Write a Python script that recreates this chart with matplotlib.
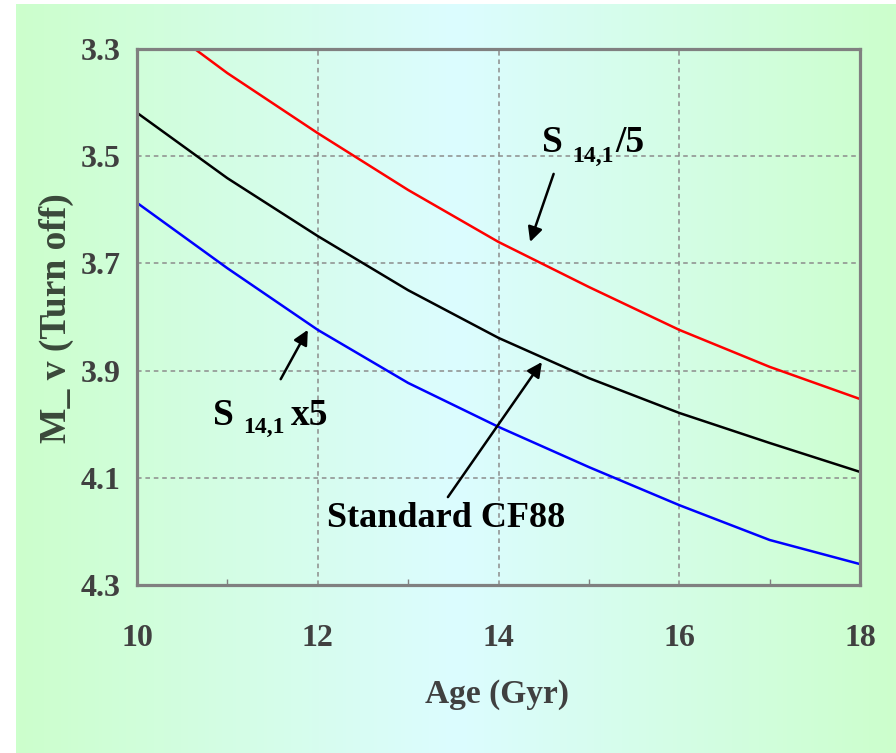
import numpy as np
import matplotlib
matplotlib.use("Agg")
import matplotlib.pyplot as plt
from matplotlib.colors import LinearSegmentedColormap
from matplotlib.ticker import MultipleLocator

plt.rcParams['font.family'] = ['Liberation Serif', 'DejaVu Serif']
plt.rcParams['font.weight'] = 'bold'

ages = [10, 11, 12, 13, 14, 15, 16, 17, 18]
mv_div5 = [3.22, 3.345, 3.457, 3.563, 3.660, 3.744, 3.824, 3.893, 3.953]
mv_std = [3.419, 3.541, 3.649, 3.750, 3.839, 3.914, 3.979, 4.035, 4.089]
mv_x5 = [3.587, 3.709, 3.824, 3.923, 4.005, 4.080, 4.151, 4.216, 4.261]

yticks = [3.3, 3.5, 3.7, 3.9, 4.1, 4.3]
xticks = [10, 12, 14, 16, 18]

W, H = 896, 753
fig = plt.figure(figsize=(W / 100, H / 100), dpi=100)

# gradient background (green at edges, cyan in the middle)
bg = fig.add_axes([16 / W, 0, 880 / W, 749 / H], zorder=-1)
cmap = LinearSegmentedColormap.from_list("bg", ["#ccffcc", "#dcfcff", "#ccffcc"])
grad = np.linspace(0, 1, 256).reshape(1, -1)
bg.imshow(grad, aspect='auto', cmap=cmap, extent=[0, 1, 0, 1])
bg.axis('off')

ax = fig.add_axes([137 / W, (H - 585) / H, 723 / W, 536 / H])
ax.set_facecolor('none')

ax.plot(ages, mv_div5, color='#ff0000', lw=1.8)
ax.plot(ages, mv_std, color='black', lw=1.8)
ax.plot(ages, mv_x5, color='#0000ff', lw=1.8)

ax.set_xlim(10, 18)
ax.set_ylim(4.3, 3.3)
ax.set_xticks(xticks)
ax.set_yticks(yticks)
ax.set_yticklabels([f"{v:.1f}" for v in yticks])
ax.xaxis.set_minor_locator(MultipleLocator(1))
ax.tick_params(axis='both', which='major', length=0, labelsize=23,
               labelcolor='#404040')
ax.tick_params(axis='x', which='major', pad=28)
ax.tick_params(axis='y', which='major', pad=12)
ax.tick_params(axis='x', which='minor', direction='in', length=4,
               width=1, color='#808080')
ax.tick_params(axis='y', which='minor', length=0)

ax.grid(True, which='major', color='#8c8c8c', lw=1.1, linestyle=(0, (3, 2.5)))
for s in ax.spines.values():
    s.set_color('#808080')
    s.set_linewidth(2.3)

ax.set_xlabel("Age (Gyr)", fontsize=24, color='#404040', fontweight='bold')
ax.set_ylabel("M_ v (Turn off)", fontsize=27, color='#3a483a', fontweight='bold')
ax.xaxis.set_label_coords(0.498, -0.175)
ax.yaxis.set_label_coords(-0.087, 0.498)

arrow = dict(arrowstyle='-|>', mutation_scale=22, lw=1.8, color='black',
             shrinkA=0, shrinkB=0)

# S 14,1 /5
ax.text(14.48, 3.492, "S", fontsize=27, ha='left', va='baseline')
ax.text(14.81, 3.511, "14,1", fontsize=17, ha='left', va='baseline')
ax.text(15.29, 3.492, "/5", fontsize=27, ha='left', va='baseline')
ax.annotate("", xy=(14.35, 3.660), xytext=(14.61, 3.533), arrowprops=arrow)

# S 14,1 x5
ax.text(10.84, 4.001, "S", fontsize=27, ha='left', va='baseline')
ax.text(11.17, 4.016, "14,1", fontsize=17, ha='left', va='baseline')
ax.text(11.70, 4.001, "x5", fontsize=27, ha='left', va='baseline')
ax.annotate("", xy=(11.89, 3.824), xytext=(11.59, 3.916), arrowprops=arrow)

# Standard CF88
ax.text(12.10, 4.192, "Standard CF88", fontsize=26, ha='left', va='baseline')
ax.annotate("", xy=(14.48, 3.884), xytext=(13.44, 4.136), arrowprops=arrow)

fig.savefig("out.png", dpi=100)
